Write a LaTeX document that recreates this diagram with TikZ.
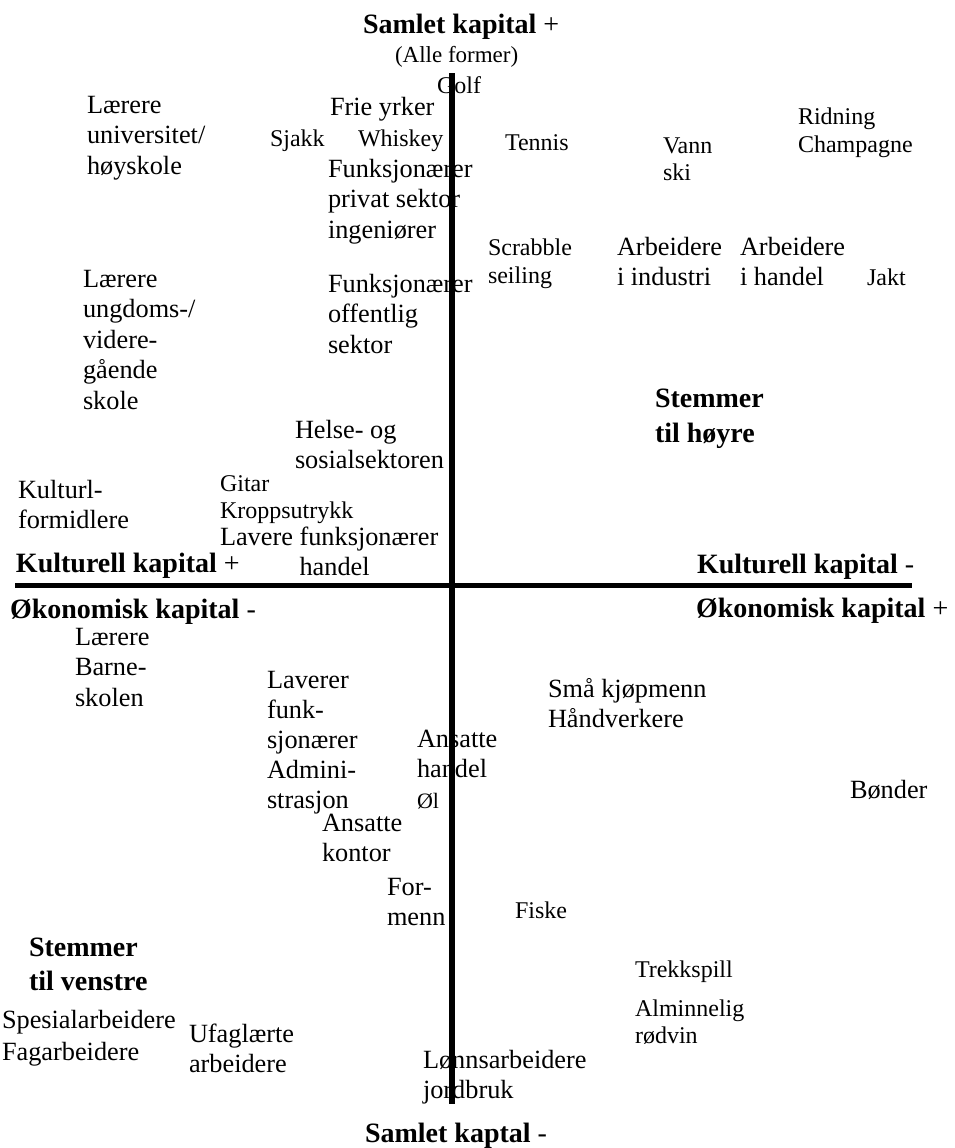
\documentclass[tikz,border=0pt]{standalone}
\usepackage{fontspec}
\setmainfont{Liberation Serif}
% a left-aligned stack of lines whose baseline is the first line's baseline
\newcommand\textlines[1]{\begin{tabular}[t]{@{}l@{}}#1\end{tabular}}
\newcommand\mainsz{\fontsize{26.3}{30.5}\selectfont}
\newcommand\smallsz{\fontsize{24}{28}\selectfont}
\newcommand\boldsz{\fontsize{28}{35}\selectfont\bfseries}
\tikzset{
  lbl/.style={inner sep=0pt, outer sep=0pt, anchor=base west, font=\mainsz},
  sml/.style={lbl, font=\smallsz},
  hdr/.style={lbl, font=\boldsz},
  axisline/.style={line width=#1, black},
}
\begin{document}
\begin{tikzpicture}[x=1pt,y=-1pt]
\useasboundingbox (0,0) rectangle (955,1148);

% ---- axis titles
\node[hdr] (ytop) at (363,34) {Samlet kapital \textmd{+}};
\node[sml, font={\fontsize{23}{28}\selectfont}] (yall) at (395,63) {(Alle former)};
\node[hdr] (kplus) at (16,572) {Kulturell kapital \textmd{+}};
\node[hdr] (kminus) at (697,573) {Kulturell kapital \textmd{-}};
\node[hdr] (ominus) at (10,618) {Økonomisk kapital \textmd{-}};
\node[hdr] (oplus) at (696,617) {Økonomisk kapital \textmd{+}};
\node[hdr] (ybot) at (365,1142) {Samlet kaptal \textmd{-}};

% ---- upper left
\node[sml] (golf) at (437,93) {Golf};
\node[lbl] (univ) at (87,113) {\textlines{Lærere\\universitet/\\høyskole}};
\node[lbl] (frie) at (330,115) {Frie yrker};
\node[sml] (sjakk) at (270,146) {Sjakk};
\node[sml] (whisky) at (358,146) {Whiskey};
\node[lbl] (privat) at (328,177) {\textlines{Funksjonærer\\privat sektor\\ingeniører}};
\node[lbl] (ungdom) at (83,287) {\textlines{Lærere\\ungdoms-/\\videre-\\gående\\skole}};
\node[lbl] (offentlig) at (328,292) {\textlines{Funksjonærer\\offentlig\\sektor}};
\node[lbl] (helse) at (295,438) {\textlines{Helse- og\\sosialsektoren}};
\node[lbl] (kultur) at (18,498) {\textlines{Kulturl-\\formidlere}};
\node[sml, font={\fontsize{24}{27}\selectfont}] (gitar) at (220,491) {\textlines{Gitar\\Kroppsutrykk}};
\node[lbl] (lavere) at (220,545) {\textlines{Lavere funksjonærer\\\phantom{Lavere }handel}};

% ---- upper right
\node[sml] (tennis) at (505,150) {Tennis};
\node[sml, font={\fontsize{24}{27}\selectfont}] (vann) at (663,153) {\textlines{Vann\\ski}};
\node[sml] (ridning) at (798,124) {\textlines{Ridning\\Champagne}};
\node[sml] (scrabble) at (488,255) {\textlines{Scrabble\\seiling}};
\node[lbl] (industri) at (617,255) {\textlines{Arbeidere\\i industri}};
\node[lbl] (ahandel) at (740,255) {\textlines{Arbeidere\\i handel}};
\node[sml] (jakt) at (867,285) {Jakt};
\node[hdr] (hoyre) at (655,407) {\textlines{Stemmer\\til høyre}};

% ---- lower left
\node[lbl] (barne) at (75,645) {\textlines{Lærere\\Barne-\\skolen}};
\node[lbl, font={\fontsize{26.3}{30}\selectfont}] (admin) at (267,688) {\textlines{Laverer\\funk-\\sjonærer\\Admini-\\strasjon}};
\node[lbl, font={\fontsize{26.3}{30.5}\selectfont}] (ansh) at (417,747) {\textlines{Ansatte\\handel\\{\fontsize{22}{30.5}\selectfont Øl}}};
\node[lbl] (kontor) at (322,831) {\textlines{Ansatte\\kontor}};
\node[lbl] (formenn) at (387,895) {\textlines{For-\\menn}};
\node[hdr, font={\fontsize{28}{34}\selectfont\bfseries}] (venstre) at (29,956) {\textlines{Stemmer\\til venstre}};
\node[lbl, font={\fontsize{26.3}{32}\selectfont}] (spesial) at (2,1028) {\textlines{Spesialarbeidere\\Fagarbeidere}};
\node[lbl] (ufag) at (189,1042) {\textlines{Ufaglærte\\arbeidere}};
\node[lbl] (lonn) at (423,1068) {\textlines{Lønnsarbeidere\\jordbruk}};

% ---- lower right
\node[lbl] (smaa) at (548,697) {\textlines{Små kjøpmenn\\Håndverkere}};
\node[lbl] (bonder) at (850,798) {Bønder};
\node[sml] (fiske) at (515,918) {Fiske};
\node[sml] (trekk) at (635,977) {Trekkspill};
\node[sml, font={\fontsize{24}{27}\selectfont}] (rodvin) at (635,1016) {\textlines{Alminnelig\\rødvin}};

% ---- the two axes, drawn over the labels
\coordinate (axtop) at (452,73);
\coordinate (axbot) at (452,1104);
\coordinate (axleft) at (15,585);
\coordinate (axright) at (912,585);
\draw[axisline=5pt] (axleft) -- (axright);
\draw[axisline=6pt] (axtop) -- (axbot);
\end{tikzpicture}
\end{document}
